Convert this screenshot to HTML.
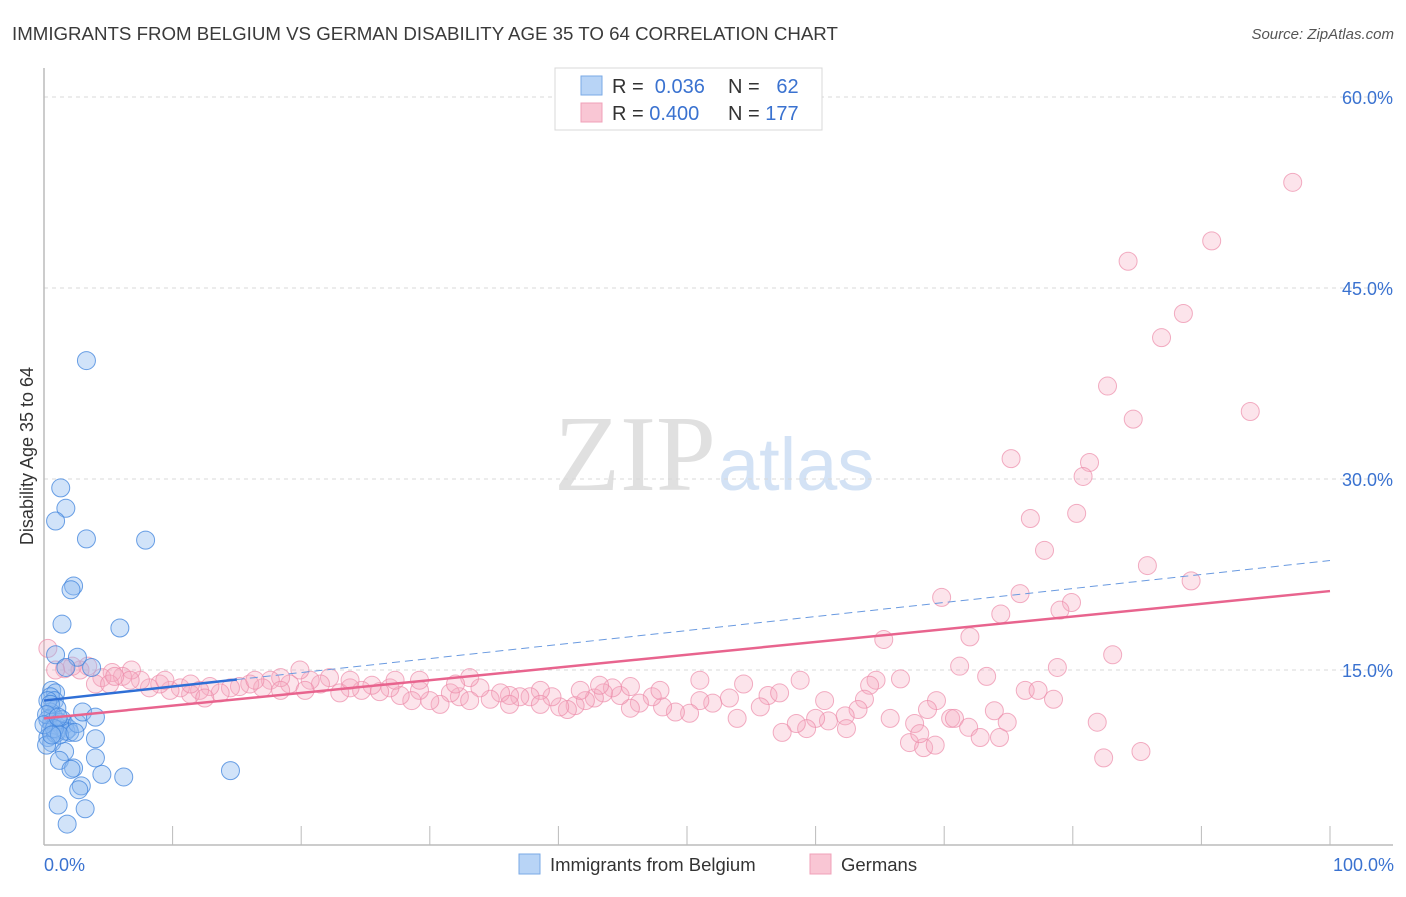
<!DOCTYPE html>
<html><head><meta charset="utf-8"><style>
body{margin:0;background:#fff;font-family:"Liberation Sans",sans-serif;}
svg text{font-family:"Liberation Sans",sans-serif;}
</style></head><body>
<svg id="chart" width="1406" height="892" viewBox="0 0 1406 892" xmlns="http://www.w3.org/2000/svg">
<text x="12" y="40" font-size="18.7" fill="#3a3a3a">IMMIGRANTS FROM BELGIUM VS GERMAN DISABILITY AGE 35 TO 64 CORRELATION CHART</text>
<text x="1394" y="39" font-size="15" fill="#555" font-style="italic" text-anchor="end">Source: ZipAtlas.com</text>
<text x="716" y="490" font-size="108" fill="#e0e0e0" text-anchor="end" font-family="Liberation Serif" style="font-family:'Liberation Serif',serif">ZIP</text>
<text x="718" y="490" font-size="74" fill="#d3e2f5">atlas</text>
<text transform="translate(33,456) rotate(-90)" font-size="18" fill="#333" text-anchor="middle">Disability Age 35 to 64</text>
<g id="grid"></g><g id="axes"></g><g id="marks"></g><g id="lines"></g>
<g>
<rect x="555" y="68" width="267" height="62" fill="#fff" stroke="#d8d8d8"/>
<rect x="581" y="76" width="21" height="19" fill="#b8d4f6" stroke="#7aaae6"/>
<rect x="581" y="103" width="21" height="19" fill="#f9c6d4" stroke="#f0a0b8"/>
<text x="612" y="93" font-size="20" fill="#333">R = <tspan fill="#3a72d0">&#160;0.036</tspan></text>
<text x="728" y="93" font-size="20" fill="#333">N = <tspan fill="#3a72d0">&#160;&#160;62</tspan></text>
<text x="612" y="120" font-size="20" fill="#333">R = <tspan fill="#3a72d0">0.400</tspan></text>
<text x="728" y="120" font-size="20" fill="#333">N = <tspan fill="#3a72d0">177</tspan></text>
</g>
<rect x="519" y="854" width="21" height="20" fill="#b8d4f6" stroke="#7aaae6"/>
<text x="550" y="871" font-size="18.5" fill="#333">Immigrants from Belgium</text>
<rect x="810" y="854" width="21" height="20" fill="#f9c6d4" stroke="#f0a0b8"/>
<text x="841" y="871" font-size="18.5" fill="#333">Germans</text>
<text x="44" y="871" font-size="18" fill="#3a72d0">0.0%</text>
<text x="1394" y="871" font-size="18" fill="#3a72d0" text-anchor="end">100.0%</text>
</svg>
<script>
const yTicks=[15,30,45,60];
const yTickLabels=["15.0%","30.0%","45.0%","60.0%"];
const xTicks=[10,20,30,40,50,60,70,80,90,100];
const blueX=[3.3,1.3,1.7,0.9,3.3,7.9,2.3,2.1,1.4,5.9,0.9,2.6,3.7,1.7,0.6,0.9,0.5,0.8,1.0,0.5,0.7,0.3,0.6,0.9,1.2,1.6,0.5,1.1,1.9,0.3,0.6,0.9,1.4,1.7,2.0,2.6,3.0,4.0,4.0,1.6,4.0,1.2,2.3,2.1,4.5,6.2,14.5,2.9,2.7,1.1,3.2,1.8,0.3,0.5,0.2,0.8,1.2,0.2,0,0.6,2.4,1.1];
const blueY=[39.3,29.3,27.7,26.7,25.3,25.2,21.6,21.3,18.6,18.3,16.2,16.0,15.2,15.2,13.4,13.2,12.9,12.6,12.0,11.7,11.4,11.1,10.9,10.7,10.9,10.7,10.3,10.3,10.4,9.7,9.3,10.0,11.1,10.2,10.1,10.8,11.7,11.3,9.6,8.6,8.1,7.9,7.3,7.2,6.8,6.6,7.1,5.9,5.6,4.4,4.1,2.9,12.6,12.3,11.5,10.4,9.9,9.1,10.7,9.9,10.1,11.3];
const pinkX=[97.1,90.8,84.3,88.6,86.9,82.7,84.7,93.8,75.2,81.3,80.8,76.7,80.3,77.8,85.8,89.2,69.8,75.9,79.9,79.0,74.4,72.0,65.3,83.1,78.8,71.2,73.3,66.6,64.7,64.2,76.3,77.3,78.5,69.4,63.8,73.9,68.7,65.8,70.5,70.8,67.7,71.9,74.9,81.9,72.8,67.3,68.4,85.3,82.4,63.3,62.3,61.0,60.0,59.3,58.5,57.4,62.4,58.8,56.3,55.7,54.4,53.9,53.3,52.0,51.0,50.2,49.1,48.1,47.3,46.3,45.6,44.8,44.2,43.5,42.8,42.1,41.3,40.7,40.1,39.5,38.6,37.8,37.0,36.2,35.5,34.7,33.9,33.1,32.3,31.6,30.8,30.0,29.2,28.6,27.7,26.9,26.1,25.5,24.7,23.8,23.0,22.2,21.5,20.7,19.9,19.1,18.4,17.6,17.0,16.0,15.2,14.5,13.7,12.9,12.1,11.4,10.6,9.8,9.0,8.2,7.5,6.8,6.1,5.3,4.5,4.0,3.4,2.8,2.2,1.6,0.9,0.3,51.0,47.9,43.2,38.6,33.1,29.2,23.8,18.4,11.4,6.7,5.1,69.3,68.1,74.3,60.7,57.2,45.6,41.7,36.2,32.0,27.3,20.3,16.4,12.5,9.4,5.5];
const pinkY=[53.3,48.7,47.1,43.0,41.1,37.3,34.7,35.3,31.6,31.3,30.2,26.9,27.3,24.4,23.2,22.0,20.7,21.0,20.3,19.7,19.4,17.6,17.4,16.2,15.2,15.3,14.5,14.3,14.2,13.8,13.4,13.4,12.7,12.6,12.7,11.8,11.9,11.2,11.2,11.2,10.8,10.5,10.9,10.9,9.7,9.3,8.9,8.6,8.1,11.9,11.4,11.0,11.2,10.4,10.8,10.1,10.4,14.2,13.0,12.1,13.9,11.2,12.8,12.4,12.6,11.6,11.7,12.1,12.9,12.4,12.0,13.0,13.6,13.2,12.8,12.6,12.2,11.9,12.1,12.9,13.4,12.9,12.9,13.0,13.2,12.7,13.6,14.4,12.9,13.2,12.3,12.6,13.4,12.6,13.0,13.6,13.3,13.8,13.4,13.6,13.2,14.4,13.9,14.2,15.0,13.9,14.4,14.2,13.6,13.9,13.7,13.6,13.2,13.7,13.4,13.1,13.6,13.4,13.9,13.6,14.2,15.0,14.5,14.8,14.4,13.9,15.3,15.0,15.3,15.1,15.0,16.7,14.2,13.4,13.8,12.3,12.6,14.2,14.2,13.4,13.9,14.2,13.9,9.1,10.0,9.7,12.6,13.2,13.7,13.4,12.3,13.9,14.2,13.4,14.2,12.8,14.2,14.5];
const blueTrend=[12.6,23.6];
const pinkTrend=[11.2,21.2];
const NS="http://www.w3.org/2000/svg";
const X0=44,X1=1330,Y0=861,PY=12.733;
function sx(v){return X0+v*(X1-X0)/100;}
function sy(v){return Y0-v*PY;}
function mk(tag,attrs,parent){const e=document.createElementNS(NS,tag);for(const k in attrs)e.setAttribute(k,attrs[k]);parent.appendChild(e);return e;}
const grid=document.getElementById('grid'),axes=document.getElementById('axes'),marks=document.getElementById('marks'),lines=document.getElementById('lines');
yTicks.forEach((t,i)=>{
 const l=mk('line',{x1:44,x2:1393,y1:sy(t),y2:sy(t),stroke:'#d8d8d8','stroke-dasharray':'4,4'},grid);
 
 
 const tx=mk('text',{x:1393,y:sy(t)+7,'font-size':18,fill:'#3a72d0','text-anchor':'end'},grid);
 tx.textContent=yTickLabels[i];
 
 
});
const ya=mk('line',{x1:44,x2:44,y1:68,y2:845,stroke:'#bbb','stroke-width':1.5},axes);


const xa=mk('line',{x1:44,x2:1393,y1:845,y2:845,stroke:'#bbb','stroke-width':1.5},axes);


xTicks.forEach(t=>{
 const tk=mk('line',{x1:sx(t),x2:sx(t),y1:826,y2:845,stroke:'#bbb'},axes);
 
 
});
pinkX.forEach((x,i)=>{
 const c=mk('circle',{cx:sx(x),cy:sy(pinkY[i]),r:9,fill:'rgba(246,170,192,0.32)',stroke:'rgba(236,140,170,0.7)','stroke-width':1},marks);
 
 
});
blueX.forEach((x,i)=>{
 const c=mk('circle',{cx:sx(x),cy:sy(blueY[i]),r:9,fill:'rgba(140,185,240,0.4)',stroke:'rgba(60,130,220,0.75)','stroke-width':1},marks);
 
 
});
const bsplit=15;
const bl1=mk('line',{x1:sx(0),y1:sy(blueTrend[0]),x2:sx(bsplit),y2:sy(blueTrend[0]+(blueTrend[1]-blueTrend[0])*bsplit/100),stroke:'#2f6fd6','stroke-width':2.5},lines);


const bl2=mk('line',{x1:sx(bsplit),y1:sy(blueTrend[0]+(blueTrend[1]-blueTrend[0])*bsplit/100),x2:sx(100),y2:sy(blueTrend[1]),stroke:'#6a9ae0','stroke-width':1,'stroke-dasharray':'8,5'},lines);


const pl=mk('line',{x1:sx(0),y1:sy(pinkTrend[0]),x2:sx(100),y2:sy(pinkTrend[1]),stroke:'#e8648e','stroke-width':2.5},lines);


</script>
</body></html>
